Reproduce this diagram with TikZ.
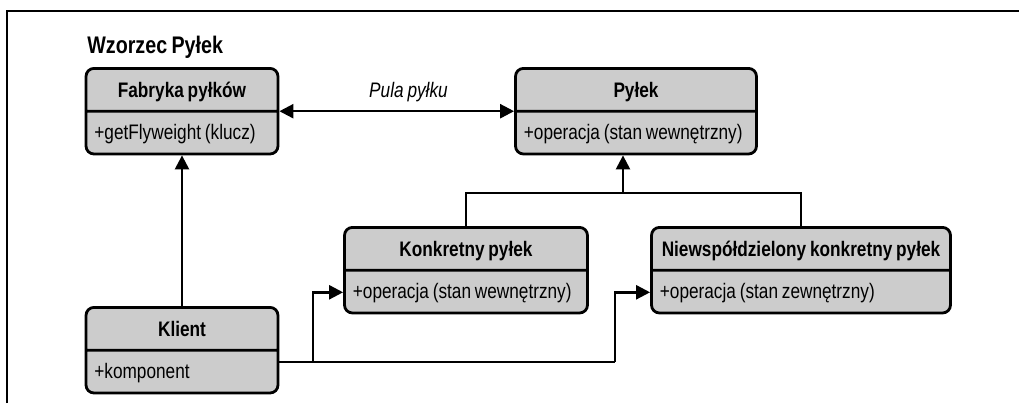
\documentclass[tikz,border=0pt]{standalone}
\usepackage{fontspec}
\setmainfont{Liberation Sans}[FakeStretch=0.82,WordSpace=0.8]
\usepackage{tikz}
\usetikzlibrary{arrows.meta,calc,shapes.multipart}
\newcommand{\wiersz}{\rule[-2.5pt]{0pt}{12.2pt}}
\newcommand{\pole}[3]{\makebox[#1][#2]{\wiersz #3}}

\begin{document}
\begin{tikzpicture}[x=0.5pt,y=-0.5pt,
  klasa/.style={rectangle split, rectangle split parts=2, draw, line width=1.4pt,
    fill=gray!40, rounded corners=4pt, inner xsep=4.2pt, inner ysep=3.9pt,
    anchor=north, font=\fontsize{10.5}{12.5}\selectfont},
  linia/.style={line width=1.2pt},
  strzalka/.style={linia, -{Triangle[length=7pt,width=7pt]}}]
\useasboundingbox (0,0) rectangle (1019,403);
\draw[line width=1.3pt] (7,403) -- (7,11) -- (1019,11);
\node[anchor=base west, inner sep=0pt, font=\fontsize{12}{14}\selectfont\bfseries] (tytul) at (87,53) {Wzorzec Pyłek};
\node[klasa] (fabryka) at (182,67)
  {\pole{87.6pt}{c}{\bfseries Fabryka pyłków}\nodepart{two}\pole{87.6pt}{l}{+getFlyweight (klucz)}};
\node[klasa] (pylek) at (636,67)
  {\pole{112.1pt}{c}{\bfseries Pyłek}\nodepart{two}\pole{112.1pt}{l}{+operacja (stan wewnętrzny)}};
\node[klasa] (klient) at (182,306)
  {\pole{87.6pt}{c}{\bfseries Klient}\nodepart{two}\pole{87.6pt}{l}{+komponent}};
\node[klasa] (konkretny) at (466,226)
  {\pole{113.1pt}{c}{\bfseries Konkretny pyłek}\nodepart{two}\pole{113.1pt}{l}{+operacja (stan wewnętrzny)}};
\node[klasa] (niewspoldzielony) at (801,226)
  {\pole{141.1pt}{c}{\bfseries Niewspółdzielony konkretny pyłek}\nodepart{two}\pole{141.1pt}{l}{+operacja (stan zewnętrzny)}};
\draw[linia, {Triangle[length=7pt,width=7pt]}-{Triangle[length=7pt,width=7pt]}] (fabryka.text split east) --
  node[pos=0.55, above=0.5pt, font=\fontsize{10.5}{12.5}\selectfont\itshape] (pula) {Pula pyłku}
  (pylek.text split west);
\draw[strzalka] (klient.north) -- (fabryka.south);
\coordinate (rozwidlenie) at (623,193);
\draw[linia] (konkretny.north) |- (rozwidlenie) -| (niewspoldzielony.north);
\draw[strzalka] (rozwidlenie) -- (rozwidlenie |- pylek.south);
\coordinate (odgalezienie) at (313,362);
\coordinate (zakret) at (615,362);
\draw[linia] (klient.east |- odgalezienie) -- (zakret);
\draw[strzalka] (odgalezienie) |- ($(konkretny.text split west)!0.5!(konkretny.south west)$);
\draw[strzalka] (zakret) |- ($(niewspoldzielony.text split west)!0.5!(niewspoldzielony.south west)$);
\end{tikzpicture}
\end{document}
